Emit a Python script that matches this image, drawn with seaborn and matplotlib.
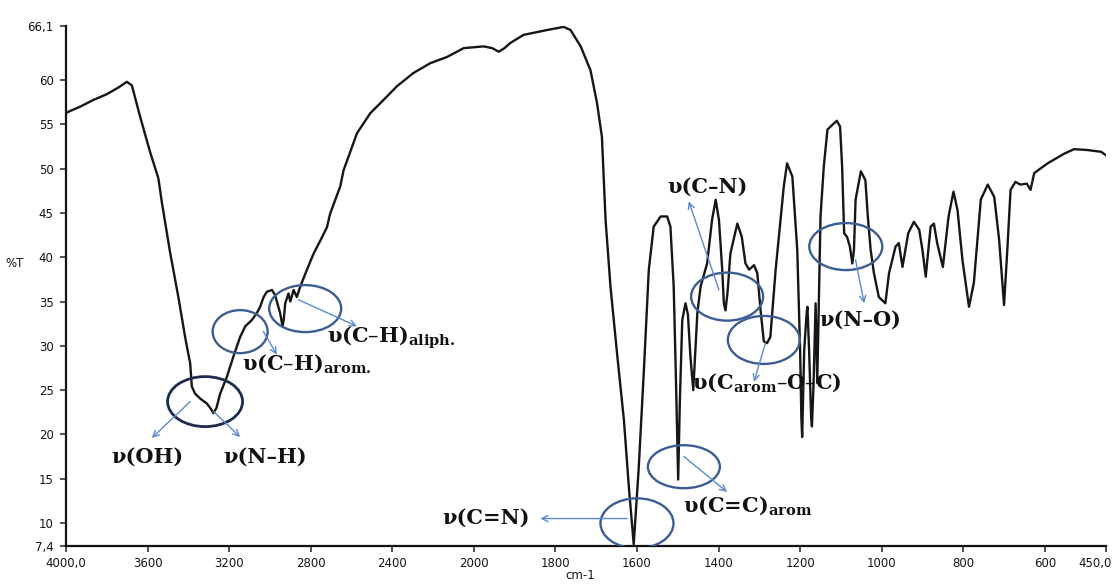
import numpy as np
import pandas as pd
import matplotlib
matplotlib.use("Agg")
import matplotlib.pyplot as plt
import seaborn as sns
from matplotlib.patches import Ellipse
from matplotlib.transforms import ScaledTranslation

# ---------------- data ----------------
wavenumber = [4000, 3930, 3866, 3800, 3740, 3702, 3677, 3637, 3588, 3547, 3530, 3490, 3449,
              3416, 3391, 3383, 3367, 3340, 3310, 3290, 3277, 3262, 3244, 3211, 3179, 3146,
              3121, 3089, 3064, 3048, 3031, 3015, 2990, 2974, 2960, 2950, 2938, 2932, 2925,
              2909, 2900, 2884, 2868, 2851, 2820, 2786, 2750, 2720, 2705, 2655, 2639, 2573,
              2508, 2443, 2377, 2296, 2214, 2132, 2050, 1976, 1955, 1939, 1925, 1910, 1878,
              1820, 1780, 1763, 1738, 1714, 1698, 1686, 1677, 1665, 1649, 1632, 1620, 1608,
              1596, 1583, 1571, 1559, 1542, 1526, 1518, 1510, 1505, 1499, 1495, 1489, 1481,
              1475, 1469, 1462, 1452, 1444, 1428, 1416, 1407, 1399, 1391, 1387, 1383, 1378,
              1371, 1354, 1343, 1334, 1325, 1313, 1305, 1297, 1289, 1281, 1273, 1260, 1248,
              1240, 1232, 1219, 1207, 1200, 1197, 1195, 1190, 1184, 1182, 1178, 1173, 1171,
              1167, 1162, 1158, 1150, 1142, 1133, 1122, 1110, 1102, 1097, 1092, 1085, 1078,
              1072, 1068, 1064, 1051, 1040, 1034, 1027, 1019, 1007, 1000, 991, 982, 966, 958,
              949, 935, 921, 908, 900, 892, 880, 872, 864, 850, 836, 824, 814, 802, 786, 774,
              757, 740, 724, 712, 700, 692, 684, 672, 660, 644, 635, 626, 593, 552, 528, 496,
              462, 450]
transmittance = [56.3, 57.0, 57.75, 58.4, 59.2, 59.8, 59.4, 55.9, 51.9, 48.9, 46.2, 40.6, 35.5,
                 31.0, 28.0, 25.4, 24.6, 24.0, 23.5, 22.9, 22.4, 23.0, 24.6, 26.5, 28.8, 31.0,
                 32.2, 32.9, 33.7, 34.4, 35.5, 36.1, 36.3, 35.7, 34.5, 33.7, 32.2, 33.0, 34.8,
                 35.9, 35.0, 36.3, 35.5, 36.7, 38.5, 40.4, 42.0, 43.4, 44.9, 48.0, 49.8, 54.0,
                 56.25, 57.75, 59.3, 60.8, 61.9, 62.6, 63.6, 63.8, 63.6, 63.2, 63.6, 64.2, 65.1,
                 65.65, 66.0, 65.65, 63.8, 61.1, 57.4, 53.6, 44.2, 36.7, 29.2, 21.6, 14.1, 7.6,
                 16.0, 27.3, 38.6, 43.45, 44.6, 44.6, 43.45, 36.7, 27.3, 14.9, 23.5, 32.9, 34.8,
                 33.5, 28.8, 25.0, 33.7, 36.7, 39.3, 44.2, 46.5, 44.2, 38.6, 34.8, 34.0, 36.0,
                 40.4, 43.8, 42.3, 39.3, 38.6, 39.1, 38.2, 34.0, 30.5, 30.3, 31.0, 38.6, 44.2,
                 48.0, 50.6, 49.1, 40.8, 29.5, 22.0, 19.7, 29.5, 33.7, 34.4, 29.5, 22.0, 20.9,
                 25.8, 34.8, 25.8, 44.6, 50.2, 54.4, 54.9, 55.4, 54.75, 50.2, 42.7, 42.3, 41.2,
                 39.3, 40.8, 46.5, 49.7, 48.7, 44.6, 40.8, 38.2, 35.5, 35.2, 34.8, 38.2, 41.2, 41.6,
                 38.9, 42.7, 44.0, 43.1, 40.8, 37.8, 43.45, 43.8, 41.6, 38.9, 44.6, 47.4, 45.3, 39.7,
                 34.4, 37.1, 46.5, 48.2, 46.8, 41.95, 34.6, 40.8, 47.6, 48.5, 48.2, 48.3, 47.6,
                 49.5, 50.6, 51.7, 52.2, 52.1, 51.9, 51.5]

x_ticks = [4000, 3600, 3200, 2800, 2400, 2000, 1800, 1600, 1400, 1200, 1000, 800, 600, 450]
x_tick_labels = ["4000,0", "3600", "3200", "2800", "2400", "2000", "1800", "1600", "1400",
                 "1200", "1000", "800", "600", "450,0"]
y_ticks = [7.4, 10, 15, 20, 25, 30, 35, 40, 45, 50, 55, 60, 66.1]
y_tick_labels = ["7,4", "10", "15", "20", "25", "30", "35", "40", "45", "50", "55", "60", "66,1"]

# band annotations
band_labels = ["ν(OH)", "ν(N–H)", r"υ(C–H)$_{\mathbf{arom.}}$", r"υ(C–H)$_{\mathbf{aliph.}}$",
               "ν(C=N)", r"υ(C=C)$_{\mathbf{arom}}$", "υ(C–N)", r"υ(C$_{\mathbf{arom}}$–O–C)",
               "ν(N–O)"]
label_pos = [(3602, 17.45), (3023, 17.45), (3136, 27.95), (2719, 30.9), (1969, 10.56),
             (1486, 12.0), (1427, 47.9), (1464, 25.8), (1052, 32.9)]
label_ha = ["center", "center", "left", "left", "center", "left", "center", "left", "center"]

ellipse_centres = [(3318, 23.7), (3146, 31.6), (2827, 34.2), (1600, 9.96), (1485, 16.35),
                   (1379, 35.55), (1289, 30.66), (1088, 41.2)]
ellipse_sizes = [(75, 50), (55, 43), (72, 47), (73, 50), (72, 43), (72, 48), (72, 48), (73, 47)]
ellipse_colors = ["#1d2c4e", "#3b5d92", "#3b5d92", "#3b5d92", "#3b5d92", "#3b5d92", "#3b5d92",
                  "#3b5d92"]

arrow_from = [(3391, 23.7), (3277, 22.6), (3032, 31.6), (2860, 35.2), (1624, 10.5),
              (1485, 17.5), (1399, 36.3), (1285, 30.3), (1064, 39.7)]
arrow_to = [(3579, 19.6), (3146, 19.7), (2966, 29.0), (2573, 32.2), (1837, 10.5),
            (1379, 13.5), (1473, 46.3), (1313, 25.95), (1043, 34.8)]

# ---------------- plotting ----------------
sns.set_theme(style="white")
plt.rcParams["font.family"] = ["DejaVu Sans"]
plt.rcParams["mathtext.fontset"] = "dejavuserif"

W, H = 1117, 584
fig = plt.figure(figsize=(W / 100, H / 100), dpi=100)
ax = fig.add_axes([66 / W, (H - 546) / H, (1106 - 66) / W, (546 - 26) / H])


# FTIR axis: 400 cm-1 per division above 2000, 200 cm-1 per division below
def fwd(w):
    w = np.asarray(w, dtype=float)
    return -np.where(w >= 2000, (4000 - w) / 400.0, 5 + (2000 - w) / 200.0)


def inv(u):
    u = -np.asarray(u, dtype=float)
    return np.where(u <= 5, 4000 - 400.0 * u, 2000 - 200.0 * (u - 5))


ax.set_xscale("function", functions=(fwd, inv))

df = pd.DataFrame({"wn": wavenumber, "T": transmittance})
sns.lineplot(data=df, x="wn", y="T", sort=False, estimator=None, color="#161616",
             linewidth=1.7, ax=ax)

ax.set_xlim(4000, 450)
ax.set_ylim(7.4, 66.1)
ax.set_xticks(x_ticks)
ax.set_xticklabels(x_tick_labels)
ax.set_yticks(y_ticks)
ax.set_yticklabels(y_tick_labels)
ax.minorticks_off()

for side in ["top", "right"]:
    ax.spines[side].set_visible(False)
for side in ["left", "bottom"]:
    ax.spines[side].set_color("#111111")
    ax.spines[side].set_linewidth(1.6)

ax.tick_params(axis="both", which="major", bottom=True, left=True, direction="out",
               length=4, width=1.2, color="#333333", labelsize=8.5, labelcolor="#151515")
ax.tick_params(axis="x", pad=4)
ax.tick_params(axis="y", pad=5)

# keep the last x tick label inside the figure
last = ax.get_xticklabels()[-1]
last.set_horizontalalignment("right")
last.set_transform(last.get_transform() + ScaledTranslation(6 / 100, 0, fig.dpi_scale_trans))

ax.set_xlabel("cm-1", fontsize=8.5, color="#151515")
ax.set_ylabel("%T", fontsize=8.5, color="#151515", rotation=0)
ax.xaxis.set_label_coords(0.494, -0.045)
ax.yaxis.set_label_coords(-0.049, 0.53)

# ellipses (sized in pixels, centred on a data point)
for (cx, cy), (ew, eh), ec in zip(ellipse_centres, ellipse_sizes, ellipse_colors):
    tr = fig.dpi_scale_trans + ScaledTranslation(cx, cy, ax.transData)
    e = Ellipse((0, 0), ew / 100, eh / 100, transform=tr, fill=False, edgecolor=ec,
                linewidth=2.0 if ec == "#1d2c4e" else 1.7, zorder=4)
    ax.add_artist(e)

# arrows
for a0, a1 in zip(arrow_from, arrow_to):
    ax.annotate("", xy=a1, xytext=a0,
                arrowprops=dict(arrowstyle="->", color="#5b8ad0", lw=1.0,
                                shrinkA=0, shrinkB=0, mutation_scale=11),
                zorder=5)

# labels
for txt, (lx, ly), ha in zip(band_labels, label_pos, label_ha):
    ax.text(lx, ly, txt, ha=ha, va="center", fontsize=15, fontweight="bold",
            family=["DejaVu Serif"], color="#111111", zorder=6)

fig.savefig("out.png", dpi=100)
